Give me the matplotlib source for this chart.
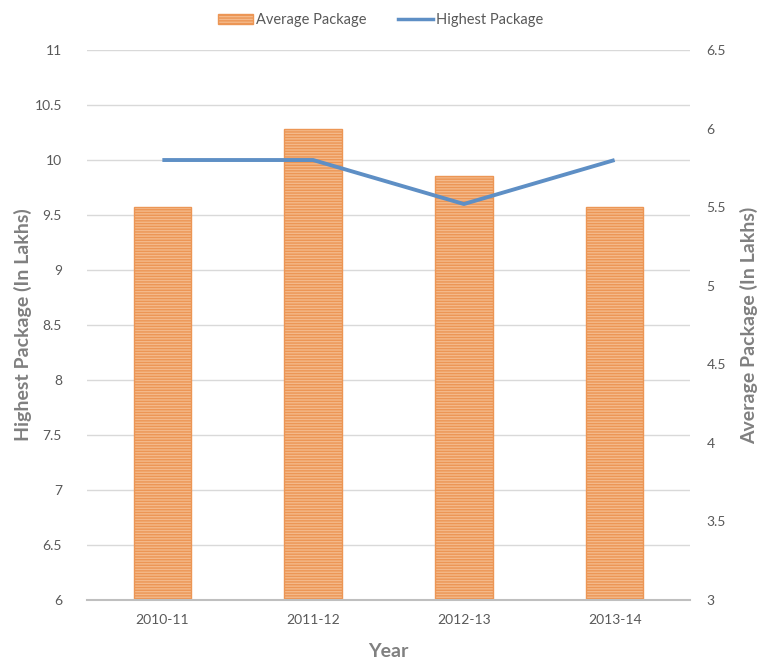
import matplotlib.pyplot as plt
from matplotlib.patches import Patch
from matplotlib.lines import Line2D

plt.rcParams["font.family"] = ["Lato", "DejaVu Sans"]
plt.rcParams["hatch.linewidth"] = 1.0

years = ["2010-11", "2011-12", "2012-13", "2013-14"]
average_package = [5.5, 6.0, 5.7, 5.5]
highest_package = [10.0, 10.0, 9.6, 10.0]

BAR_FACE = "#F4B98A"
BAR_EDGE = "#EC9655"
LINE_COLOR = "#5E8FC5"
TEXT_COLOR = "#595959"
TITLE_COLOR = "#808080"

fig = plt.figure(figsize=(7.61, 6.6), dpi=100)
ax = fig.add_axes([0.1143, 0.0909, 0.7924, 0.8333])
ax2 = ax.twinx()

x = list(range(len(years)))

# bars belong to the right axis, line to the left axis
ax2.bar(x, average_package, width=0.38, bottom=0, color=BAR_FACE,
        edgecolor=BAR_EDGE, hatch="------", linewidth=1.0, zorder=2)
ax2.set_ylim(3, 6.5)
ax2.set_yticks([3, 3.5, 4, 4.5, 5, 5.5, 6, 6.5])
ax2.set_yticklabels(["3", "3.5", "4", "4.5", "5", "5.5", "6", "6.5"])

ax.plot(x, highest_package, color=LINE_COLOR, linewidth=2.8,
        solid_capstyle="butt", zorder=5)
ax.set_zorder(ax2.get_zorder() + 1)
ax.patch.set_visible(False)
ax.set_ylim(6, 11)
ax.set_xlim(-0.5, 3.5)
ax.set_yticks([6, 6.5, 7, 7.5, 8, 8.5, 9, 9.5, 10, 10.5, 11])
ax.set_yticklabels(["6", "6.5", "7", "7.5", "8", "8.5", "9", "9.5",
                    "10", "10.5", "11"])
ax.set_xticks(x)
ax.set_xticklabels(years)

# gridlines from the left axis, drawn on the bar axis so they sit behind the bars
for v in ax.get_yticks()[1:]:
    frac = (v - 6) / 5
    ax2.axhline(3 + frac * 3.5, color="#D9D9D9", linewidth=1.0, zorder=0)

for a in (ax, ax2):
    for s in a.spines.values():
        s.set_visible(False)
    a.tick_params(length=0, colors=TEXT_COLOR, labelsize=10)
ax.spines["bottom"].set_visible(True)
ax.spines["bottom"].set_color("#BFBFBF")
ax.spines["bottom"].set_linewidth(1.5)
ax.tick_params(axis="y", pad=18)
ax.tick_params(axis="x", pad=10)
ax2.tick_params(axis="y", pad=12)

ax.set_xlabel("Year", fontsize=14, color=TITLE_COLOR, fontweight="bold",
              labelpad=12)
ax.set_ylabel("Highest Package (In Lakhs)", fontsize=14, color=TITLE_COLOR,
              fontweight="bold", labelpad=2)
ax2.set_ylabel("Average Package (In Lakhs)", fontsize=14, color=TITLE_COLOR,
               fontweight="bold", labelpad=10)

handles = [
    Patch(facecolor=BAR_FACE, edgecolor=BAR_EDGE, hatch="------"),
    Line2D([0], [0], color=LINE_COLOR, linewidth=2.5),
]
fig.legend(handles, ["Average Package", "Highest Package"], loc="upper center",
           bbox_to_anchor=(0.5, 1.0), ncol=2, frameon=False, fontsize=10.5,
           labelcolor=TEXT_COLOR, handlelength=2.4, handleheight=0.6,
           columnspacing=2.2, handletextpad=0.2)

fig.savefig("out.png", dpi=100)
